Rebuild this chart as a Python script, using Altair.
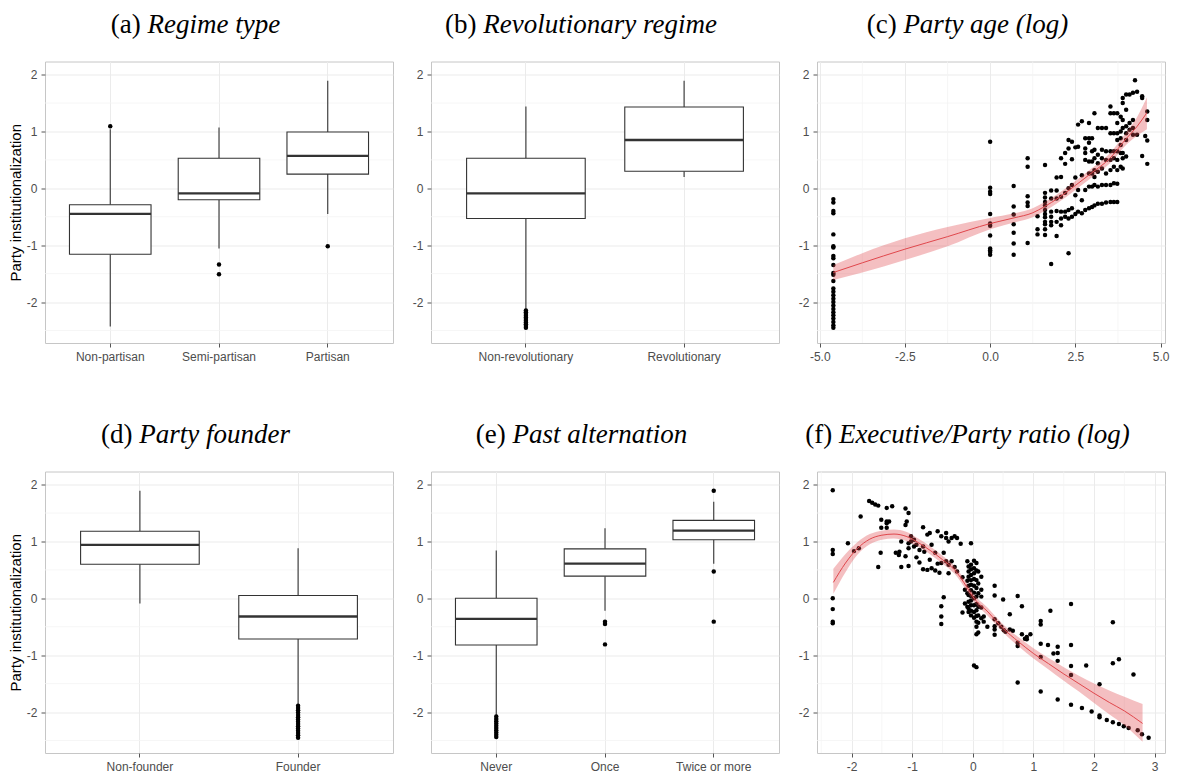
import altair as alt
import pandas as pd

# ------------------------------------------------------------------ layout
W = 348
H = 281.5
ROW_STEP = 410        # distance between the tops of the two rows of panels
YDOM = [-2.72, 2.23]
Y_MAJOR = [-2, -1, 0, 1, 2]
Y_MINOR = [-2.5, -1.5, -0.5, 0.5, 1.5]
YTITLE = "Party institutionalization"

TAGS = ["(a)", "(b)", "(c)", "(d)", "(e)", "(f)"]
NAMES = ["Regime type", "Revolutionary regime", "Party age (log)",
         "Party founder", "Past alternation", "Executive/Party ratio (log)"]

# ------------------------------------------------------------------ (a) regime type
REG_CATS = ["Non-partisan", "Semi-partisan", "Partisan"]
REG_Q1 = [-1.16, -0.20, 0.25]
REG_MED = [-0.45, -0.09, 0.57]
REG_Q3 = [-0.29, 0.53, 0.99]
REG_LO = [-2.43, -1.06, -0.45]
REG_HI = [1.04, 1.07, 1.89]
REG_OUT_CAT = ["Non-partisan", "Semi-partisan", "Semi-partisan", "Partisan"]
REG_OUT_VAL = [1.09, -1.34, -1.51, -1.02]

# ------------------------------------------------------------------ (b) revolutionary regime
REV_CATS = ["Non-revolutionary", "Revolutionary"]
REV_Q1 = [-0.53, 0.30]
REV_MED = [-0.09, 0.85]
REV_Q3 = [0.53, 1.43]
REV_LO = [-2.12, 0.20]
REV_HI = [1.44, 1.89]
REV_OUT_CAT = ["Non-revolutionary"] * 11
REV_OUT_VAL = [-2.15, -2.18, -2.21, -2.24, -2.27, -2.30, -2.33, -2.36, -2.39, -2.42, -2.45]

# ------------------------------------------------------------------ (d) party founder
FND_CATS = ["Non-founder", "Founder"]
FND_Q1 = [0.60, -0.715]
FND_MED = [0.94, -0.32]
FND_Q3 = [1.18, 0.05]
FND_LO = [-0.09, -1.86]
FND_HI = [1.89, 0.88]
FND_OUT_CAT = ["Founder"] * 15
FND_OUT_VAL = [-1.89, -1.93, -1.97, -2.01, -2.05, -2.09, -2.13, -2.17, -2.21,
               -2.25, -2.29, -2.33, -2.37, -2.41, -2.45]

# ------------------------------------------------------------------ (e) past alternation
ALT_CATS = ["Never", "Once", "Twice or more"]
ALT_Q1 = [-0.82, 0.39, 1.03]
ALT_MED = [-0.36, 0.61, 1.19]
ALT_Q3 = [0.0, 0.87, 1.37]
ALT_LO = [-2.05, -0.22, 0.61]
ALT_HI = [0.84, 1.23, 1.70]
ALT_OUT_CAT = ["Never"] * 10 + ["Once"] * 3 + ["Twice or more"] * 3
ALT_OUT_VAL = [-2.08, -2.12, -2.16, -2.20, -2.24, -2.28, -2.32, -2.36, -2.40, -2.44,
               -0.41, -0.45, -0.81,
               1.89, 0.47, -0.41]

# ------------------------------------------------------------------ (c) party age (log)
AGE_COLS = [-4.6, 0.0, 0.69, 1.10, 1.39, 1.61, 1.79, 1.95, 2.08, 2.20, 2.30, 2.40,
            2.50, 2.58, 2.69, 2.79, 2.90, 2.99, 3.06, 3.16, 3.28, 3.40, 3.53, 3.63,
            3.73, 3.83, 3.89, 3.99, 4.09, 4.19, 4.25, 4.31, 4.46, 4.55, 4.61]
AGE_VALS = [
    [-0.19, -0.25, -0.40, -0.44, -0.81, -1.02, -1.04, -1.19, -1.23, -1.35, -1.49, -1.52,
     -1.63, -1.76, -1.82, -1.88, -1.94, -2.00, -2.06, -2.12, -2.18, -2.23, -2.29, -2.35,
     -2.41, -2.45],
    [0.82, 0.01, -0.06, -0.10, -0.45, -0.62, -0.66, -0.83, -1.06, -1.09, -1.12, -1.17],
    [0.04, -0.32, -0.46, -0.63, -0.78, -0.97, -1.17],
    [0.53, 0.38, -0.14, -0.25, -0.31, -0.96],
    [-0.49, -0.72, -0.81],
    [0.41, -0.08, -0.16, -0.24, -0.30, -0.38, -0.45, -0.51, -0.59, -0.63, -0.72, -0.82],
    [-0.04, -0.18, -0.41, -0.50, -0.59, -0.65, -1.33],
    [0.19, -0.04, -0.18, -0.40, -0.59, -0.84],
    [0.53, 0.20, -0.15, -0.41, -0.53, -0.65],
    [0.62, 0.43, -0.08, -0.41, -0.50],
    [0.85, 0.70, 0.00, -0.38, -0.53, -1.14],
    [0.82, 0.51, 0.06, -0.35, -0.50],
    [0.72, 0.19, -0.12, -0.45],
    [1.12, 0.73, -0.03, -0.41],
    [1.18, 0.23, -0.21, -0.44],
    [0.88, 0.70, 0.62, 0.50, -0.03, -0.38],
    [1.15, 0.88, 0.80, 0.47, 0.26, 0.03, -0.35],
    [0.88, 0.65, 0.47, 0.26, 0.03, -0.33],
    [1.32, 0.68, 0.53, 0.32, 0.20, 0.06, -0.30],
    [1.06, 0.59, 0.44, 0.29, 0.03, -0.27],
    [1.06, 0.68, 0.53, 0.35, 0.06, -0.27],
    [1.06, 0.65, 0.50, 0.26, 0.06, -0.25],
    [1.44, 1.32, 0.97, 0.65, 0.50, 0.32, 0.06, -0.24],
    [1.32, 0.97, 0.65, 0.53, 0.38, 0.09, -0.24],
    [1.32, 1.15, 0.97, 0.85, 0.65, 0.50, 0.32, 0.08, -0.24],
    [1.26, 1.00, 0.88, 0.76, 0.62, 0.38],
    [1.59, 1.50, 1.20, 1.06, 0.62, 0.53, 0.35],
    [1.65, 1.38, 1.09, 0.97, 0.85, 0.56],
    [1.65, 1.15, 1.03],
    [1.68, 1.20, 1.06, 0.94],
    [1.90],
    [1.70, 0.94],
    [1.62, 1.59, 0.57],
    [0.92],
    [1.35, 1.20, 0.84, 0.43],
]
AGE_FIT_X = [-4.6, -3.75, -2.5, -1.25, 0.0, 0.7, 1.25, 1.6, 2.0, 2.5, 3.0, 3.5, 4.0, 4.3, 4.6]
AGE_FIT_Y = [-1.48, -1.31, -1.07, -0.85, -0.62, -0.52, -0.43, -0.32, -0.17, 0.05, 0.28, 0.52, 0.88, 1.08, 1.33]
AGE_FIT_LO = [-1.61, -1.48, -1.26, -1.02, -0.72, -0.60, -0.51, -0.40, -0.25, -0.03, 0.20, 0.43, 0.77, 0.92, 1.04]
AGE_FIT_HI = [-1.35, -1.14, -0.88, -0.68, -0.52, -0.44, -0.35, -0.24, -0.09, 0.13, 0.36, 0.61, 0.99, 1.24, 1.60]

# ------------------------------------------------------------------ (f) executive/party ratio (log)
RAT_COLS = [-2.31, -2.06, -1.96, -1.88, -1.85, -1.71, -1.66, -1.61, -1.56, -1.52, -1.51,
            -1.42, -1.38, -1.33, -1.27, -1.22, -1.21, -1.18, -1.11, -1.09, -1.06, -1.02,
            -0.97, -0.93, -0.88, -0.82, -0.80, -0.75, -0.71, -0.68, -0.62, -0.58, -0.55,
            -0.52, -0.48, -0.44, -0.40, -0.35, -0.30, -0.26, -0.20, -0.17, -0.13, -0.09,
            -0.07, -0.03, 0.02, 0.06, 0.09, 0.14, 0.18, 0.24, 0.36, 0.42, 0.47, 0.50,
            0.51, 0.54, 0.61, 0.66, 0.74, 0.81, 0.86, 0.89, 0.95, 1.12, 1.24, 1.28, 1.33,
            1.40, 1.62, 1.80, 1.87, 1.96, 2.09, 2.21, 2.31, 2.41, 2.49, 2.57, 2.65, 2.72,
            2.79, 2.90]
RAT_VALS = [
    [1.90, 0.85, 0.78, 0.00, -0.19, -0.41, -0.44],
    [0.97], [0.83], [0.88], [1.44], [1.71], [1.68], [1.65], [1.63, 0.55], [0.80],
    [1.38, 1.24],
    [1.59, 1.35, 1.32, 1.24], [1.35], [1.62], [0.80], [0.76], [0.82], [1.00, 0.55],
    [1.58, 1.29, 0.74], [1.35], [1.50, 0.97, 0.88, 0.57], [1.09, 1.00],
    [1.03, 0.91], [0.94, 0.72], [0.85, 0.63], [1.25, 0.91, 0.51], [0.82], [1.12, 0.50],
    [1.15, 0.68], [0.94, 0.53], [0.80, 0.49], [1.18, 0.61], [0.45],
    [1.09, 0.62, -0.14, -0.32, -0.45], [0.80, 0.02], [1.15, 1.06, 0.65],
    [1.00, 0.59, 0.44], [1.06, 0.65], [1.09, 0.55], [1.06, 0.47], [0.96],
    [0.37, -0.25], [0.15, -0.09], [0.65, 0.31, 0.09, -0.15],
    [0.56, 0.47, 0.38, 0.22, 0.06, -0.06, -0.18, -0.24],
    [0.97, 0.59, 0.51, 0.41, 0.32, 0.24, 0.14, 0.04, -0.04, -0.12, -0.22, -0.30],
    [0.66, 0.53, 0.44, 0.34, 0.22, 0.10, 0.00, -0.12, -0.24, -0.34, -1.18],
    [0.62, 0.49, 0.32, 0.18, 0.03, -0.10, -0.21, -0.31, -0.41, -0.50, -0.63, -1.21],
    [0.47, 0.26, 0.09, -0.15, -0.30, -0.43, -0.60],
    [0.38, 0.15, 0.03, -0.16, -0.35],
    [-0.32, -0.41], [-0.50],
    [0.22, 0.05, -0.37, -0.49, -0.55, -0.64],
    [-0.44], [-0.50], [-0.02], [-0.56], [-0.59], [-0.28, -0.55], [-0.57],
    [0.04, -0.78, -0.84, -1.48], [-0.14, -0.63], [-0.71], [-0.68, -0.72], [-0.63],
    [-0.40, -0.46, -0.80, -1.03, -1.64], [-0.82], [-0.22], [-0.97],
    [-0.85, -0.96, -1.10, -1.78], [-0.10, -0.82, -1.19, -1.35, -1.87], [-1.93],
    [-1.18], [-1.99], [-1.51, -2.06, -2.09], [-2.14], [-0.42, -1.14, -2.18],
    [-1.07, -2.21], [-2.25], [-2.28], [-1.34], [-2.32], [-2.39], [-2.45],
]
RAT_FIT_X = [-2.3, -2.1, -1.9, -1.7, -1.5, -1.3, -1.1, -0.9, -0.7, -0.5, -0.3, -0.1,
             0.0, 0.25, 0.5, 0.75, 1.0, 1.25, 1.5, 1.75, 2.0, 2.25, 2.5, 2.8]
RAT_FIT_Y = [0.28, 0.62, 0.88, 1.04, 1.11, 1.13, 1.09, 0.98, 0.84, 0.68, 0.50, 0.20,
             0.03, -0.24, -0.53, -0.76, -0.97, -1.15, -1.33, -1.50, -1.67, -1.83, -1.98, -2.20]
RAT_FIT_LO = [0.08, 0.46, 0.77, 0.95, 1.03, 1.05, 1.01, 0.91, 0.77, 0.61, 0.43, 0.13,
              -0.04, -0.31, -0.60, -0.84, -1.06, -1.25, -1.45, -1.64, -1.84, -2.04, -2.23, -2.52]
RAT_FIT_HI = [0.52, 0.78, 0.99, 1.13, 1.19, 1.21, 1.17, 1.05, 0.91, 0.75, 0.57, 0.27,
              0.10, -0.17, -0.46, -0.68, -0.88, -1.05, -1.21, -1.36, -1.50, -1.62, -1.73, -1.86]

# ------------------------------------------------------------------ styling
BOX_C = "#333333"
MINOR_C = "#f4f4f4"
FIT_C = "#e0474c"
MINUS = "\u2212"
TITLE_SIZE = 27
TITLE_FONT = "Liberation Serif"
TITLE_CX = 150.5      # title centre, relative to plot left
TITLE_Y = -28.5       # title baseline, relative to plot top

ROMAN_W = {"(": 333, ")": 333, "a": 444, "b": 500, "c": 444, "d": 500, "e": 444, "f": 333, " ": 250}
ITALIC_W = {" ": 250, "(": 333, ")": 333, "/": 278, "A": 611, "E": 611, "P": 611, "R": 611,
            "a": 500, "c": 444, "d": 500, "e": 444, "f": 278, "g": 500, "i": 278, "l": 278,
            "m": 722, "n": 500, "o": 500, "p": 500, "r": 389, "s": 389, "t": 278, "u": 500,
            "v": 444, "x": 444, "y": 444}


def text_w(s, table):
    return sum(table.get(ch, 500) for ch in s) * TITLE_SIZE / 1000.0


def title_layers(i):
    wt = text_w(TAGS[i], ROMAN_W)
    wsp = text_w(" ", ROMAN_W)
    wn = text_w(NAMES[i], ITALIC_W)
    start = TITLE_CX - (wt + wsp + wn) / 2.0
    tag = alt.Chart(pd.DataFrame({"t": [TAGS[i]]})).mark_text(
        font=TITLE_FONT, fontSize=TITLE_SIZE, align="left", baseline="alphabetic", color="black"
    ).encode(text="t:N", x=alt.value(start), y=alt.value(TITLE_Y))
    name = alt.Chart(pd.DataFrame({"t": [NAMES[i]]})).mark_text(
        font=TITLE_FONT, fontSize=TITLE_SIZE, fontStyle="italic", align="left",
        baseline="alphabetic", color="black"
    ).encode(text="t:N", x=alt.value(start + wt + wsp), y=alt.value(TITLE_Y))
    return [tag, name]


def y_enc(field, with_title):
    axis_kwargs = dict(values=Y_MAJOR, grid=True,
                       labelExpr=f"replace(format(datum.value, 'd'), '{MINUS}', '-')")
    if with_title:
        axis_kwargs["title"] = YTITLE
    else:
        axis_kwargs["title"] = None
    return alt.Y(field, type="quantitative",
                 scale=alt.Scale(domain=YDOM, nice=False, zero=False),
                 axis=alt.Axis(**axis_kwargs))


def box_panel(i, cats, q1, med, q3, lo, hi, out_cat, out_val, with_title):
    n = len(cats)
    step = W / (n - 0.25 + 2 * 0.225)
    stats = pd.DataFrame({"cat": cats, "q1": q1, "med": med, "q3": q3, "lo": lo, "hi": hi})
    outs = pd.DataFrame({"cat": out_cat, "v": out_val})
    minor = pd.DataFrame({"m": Y_MINOR})

    xenc = alt.X("cat:N", sort=cats,
                 scale=alt.Scale(domain=cats, paddingInner=0.25, paddingOuter=0.225),
                 axis=alt.Axis(title=None, grid=True, labelAngle=0))

    minor_l = alt.Chart(minor).mark_rule(color=MINOR_C, strokeWidth=0.8).encode(
        y=y_enc("m", with_title))
    upper = alt.Chart(stats).mark_rule(color=BOX_C, strokeWidth=1.1).encode(
        x=xenc, y=y_enc("q3", with_title), y2="hi")
    lower = alt.Chart(stats).mark_rule(color=BOX_C, strokeWidth=1.1).encode(
        x=xenc, y=y_enc("lo", with_title), y2="q1")
    box = alt.Chart(stats).mark_bar(fill="white", stroke=BOX_C, strokeWidth=1.1).encode(
        x=xenc, y=y_enc("q1", with_title), y2="q3")
    median = alt.Chart(stats).mark_tick(color=BOX_C, thickness=2.3, size=step * 0.75,
                                        opacity=1).encode(
        x=xenc, y=y_enc("med", with_title))
    pts = alt.Chart(outs).mark_circle(color="black", size=20, opacity=1).encode(
        x=xenc, y=y_enc("v", with_title))
    return alt.layer(minor_l, upper, lower, box, median, pts, *title_layers(i)).properties(
        width=W, height=H)


def scatter_panel(i, cols, vals, fx, fy, flo, fhi, xdom, xticks, xminor, xfmt):
    pts = pd.DataFrame([(c, v) for c, vs in zip(cols, vals) for v in vs], columns=["x", "y"])
    fit = pd.DataFrame({"x": fx, "y": fy, "lo": flo, "hi": fhi})
    xscale = alt.Scale(domain=xdom, nice=False, zero=False)
    xaxis = alt.Axis(values=xticks, title=None, grid=True, labelFlush=False,
                     labelExpr=f"replace(format(datum.value, '{xfmt}'), '{MINUS}', '-')")

    def xe(field):
        return alt.X(field, type="quantitative", scale=xscale, axis=xaxis)

    xminor_l = alt.Chart(pd.DataFrame({"m": xminor})).mark_rule(
        color=MINOR_C, strokeWidth=0.8).encode(x=xe("m"))
    yminor_l = alt.Chart(pd.DataFrame({"m": Y_MINOR})).mark_rule(
        color=MINOR_C, strokeWidth=0.8).encode(y=y_enc("m", False))
    dots = alt.Chart(pts).mark_circle(color="black", size=20, opacity=1).encode(
        x=xe("x"), y=y_enc("y", False))
    band = alt.Chart(fit).mark_area(color=FIT_C, opacity=0.35, interpolate="monotone").encode(
        x=xe("x"), y=y_enc("lo", False), y2="hi")
    line = alt.Chart(fit).mark_line(color=FIT_C, strokeWidth=1, interpolate="monotone").encode(
        x=xe("x"), y=y_enc("y", False))
    return alt.layer(xminor_l, yminor_l, dots, band, line, *title_layers(i)).properties(
        width=W, height=H)


pa = box_panel(0, REG_CATS, REG_Q1, REG_MED, REG_Q3, REG_LO, REG_HI, REG_OUT_CAT, REG_OUT_VAL, True)
pb = box_panel(1, REV_CATS, REV_Q1, REV_MED, REV_Q3, REV_LO, REV_HI, REV_OUT_CAT, REV_OUT_VAL, False)
pc = scatter_panel(2, AGE_COLS, AGE_VALS, AGE_FIT_X, AGE_FIT_Y, AGE_FIT_LO, AGE_FIT_HI,
                   [-5.08, 5.13], [-5, -2.5, 0, 2.5, 5], [-3.75, -1.25, 1.25, 3.75], ".1f")
pd_ = box_panel(3, FND_CATS, FND_Q1, FND_MED, FND_Q3, FND_LO, FND_HI, FND_OUT_CAT, FND_OUT_VAL, True)
pe = box_panel(4, ALT_CATS, ALT_Q1, ALT_MED, ALT_Q3, ALT_LO, ALT_HI, ALT_OUT_CAT, ALT_OUT_VAL, False)
pf = scatter_panel(5, RAT_COLS, RAT_VALS, RAT_FIT_X, RAT_FIT_Y, RAT_FIT_LO, RAT_FIT_HI,
                   [-2.57, 3.17], [-2, -1, 0, 1, 2, 3], [-2.5, -1.5, -0.5, 0.5, 1.5, 2.5], "d")

row1 = alt.hconcat(pa, pb, pc, spacing=38, bounds="flush")
row2 = alt.hconcat(pd_, pe, pf, spacing=38, bounds="flush")

# with flush bounds a nested row counts as zero height, so the spacing is the full row step
chart = alt.vconcat(row1, row2, spacing=ROW_STEP, bounds="flush").properties(
    padding={"left": 7, "top": 10.5, "right": 2, "bottom": 2},
    background="white",
).configure_view(
    stroke="#c6c6c6", strokeWidth=1
).configure_axis(
    labelFont="Liberation Sans", labelFontSize=12, labelColor="#4d4d4d",
    titleFont="Liberation Sans", titleFontSize=15, titleFontWeight="normal", titleColor="black",
    titlePadding=3, tickColor="#555555", tickSize=4, tickWidth=1, labelPadding=4,
    domain=False, gridColor="#ebebeb", gridWidth=1
)

chart.save("out.html", embed_options={"renderer": "svg", "actions": False})
